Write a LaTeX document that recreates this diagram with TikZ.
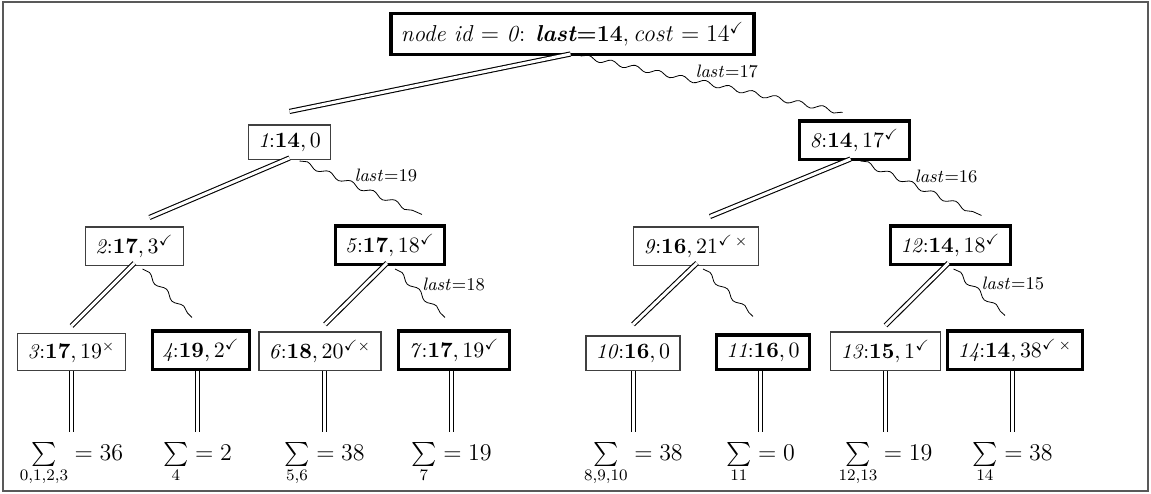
\documentclass[tikz,border=0pt,12pt]{standalone}
\usepackage{amsmath,amsfonts,amssymb}
\usetikzlibrary{decorations.pathmorphing, calc}

\begin{document}
\begin{tikzpicture}[x=0.5pt, y=-0.5pt,
            every node/.style={
                inner xsep=5pt,
                inner ysep=4pt,
                anchor=south,
                font=\fontsize{10.5}{12.6}\selectfont,
                },
            plain/.style={draw=black!75, line width=0.6pt},
            heavy/.style={draw, line width=1.6pt},
            dbl/.style={draw, double, line width=0.55pt, double distance=1.5pt},
            wavy/.style={
                draw,
                decorate,
                decoration={snake, amplitude=1.2pt, segment length=12pt}
                },
            lbl/.style={font=\fontsize{9}{11}\selectfont, inner sep=1pt},
            total/.style={inner xsep=3pt, inner ysep=5pt, anchor=base, font=\normalsize}]

        \useasboundingbox (0,0) rectangle (1151,493);
        \draw[black!65, line width=0.6pt] (3,2) rectangle (1148,491);

        \node[heavy, font=\fontsize{11.5}{13.8}\selectfont] (r) at (572.5,56) {\textit{node id} $=$ \textit{0}: \textbf{\textit{last}=14}$, \mathit{cost} = 14^{\checkmark}$};

        \node[plain] (n1) at (289.5,160) {\textit{1}:$\mathbf{14}, 0$};
        \node[heavy] (n8) at (854.5,161) {\textit{8}:$\mathbf{14}, 17^{\checkmark}$};

        \node[plain] (n2) at (134.5,266) {\textit{2}:$\mathbf{17}, 3^{\checkmark}$};
        \node[heavy] (n5) at (390,266) {\textit{5}:$\mathbf{17}, 18^{\checkmark}$};
        \node[plain] (n9) at (696,266) {\textit{9}:$\mathbf{16}, 21^{\checkmark\,\times}$};
        \node[heavy] (n12) at (950.5,266) {\textit{12}:$\mathbf{14}, 18^{\checkmark}$};

        \node[plain] (n3) at (71.5,371) {\textit{3}:$\mathbf{17}, 19^{\times}$};
        \node[heavy] (n4) at (201,371) {\textit{4}:$\mathbf{19}, 2^{\checkmark}$};
        \node[plain] (n6) at (320,371) {\textit{6}:$\mathbf{18}, 20^{\checkmark\times}$};
        \node[heavy] (n7) at (454,371) {\textit{7}:$\mathbf{17}, 19^{\checkmark}$};
        \node[plain] (n10) at (633,371) {\textit{10}:$\mathbf{16}, 0$};
        \node[heavy] (n11) at (763,371) {\textit{11}:$\mathbf{16}, 0$};
        \node[plain] (n13) at (885.5,371) {\textit{13}:$\mathbf{15}, 1^{\checkmark}$};
        \node[heavy] (n14) at (1015,371) {\textit{14}:$\mathbf{14}, 38^{\checkmark\,\times}$};

        \node[total] (s3) at (71.5,460) {$\sum\limits_{0,1,2,3} = 36$};
        \node[total] (s4) at (197.5,460) {$\sum\limits_{4} = 2$};
        \node[total] (s6) at (324.5,460) {$\sum\limits_{5,6} = 38$};
        \node[total] (s7) at (451.5,460) {$\sum\limits_{7} = 19$};
        \node[total] (s10) at (633.5,460) {$\sum\limits_{8,9,10} = 38$};
        \node[total] (s11) at (760.5,460) {$\sum\limits_{11} = 0$};
        \node[total] (s13) at (885.5,460) {$\sum\limits_{12,13} = 19$};
        \node[total] (s14) at (1012.5,460) {$\sum\limits_{14} = 38$};

        \draw[dbl] ([shift={(-2,-2)}]r.south) -- ([shift={(0,-13)}]n1.north);
        \draw[wavy] ([shift={(8,0)}]r.south) -- node[lbl, pos=.43, anchor=south west] {$\mathit{last}{=}17$} ([shift={(-12,-7)}]n8.north);

        \draw[dbl] ([shift={(0,-2)}]n1.south) -- ([shift={(15,-9)}]n2.north);
        \draw[wavy] ([shift={(10,1)}]n1.south) -- node[lbl, pos=.43, anchor=south west] {$\mathit{last}{=}19$} ([shift={(32,-10)}]n5.north);
        \draw[dbl] ([shift={(-4,-2)}]n8.south) -- ([shift={(14,-10)}]n9.north);
        \draw[wavy] ([shift={(6,0)}]n8.south) -- node[lbl, pos=.43, anchor=south west] {$\mathit{last}{=}16$} ([shift={(31,-9)}]n12.north);

        \draw[dbl] ([shift={(0,-3)}]n2.south) -- ([shift={(0,-7)}]n3.north);
        \draw[wavy] ([shift={(8,3)}]n2.south) -- ([shift={(-9,-12)}]n4.north);
        \draw[dbl] ([shift={(-3,-3)}]n5.south) -- ([shift={(5,-7)}]n6.north);
        \draw[wavy] ([shift={(5,3)}]n5.south) -- node[lbl, pos=.5, above right] {$\mathit{last}{=}18$} ([shift={(-9,-12)}]n7.north);
        \draw[dbl] ([shift={(1,-3)}]n9.south) -- ([shift={(0,-11)}]n10.north);
        \draw[wavy] ([shift={(7,3)}]n9.south) -- ([shift={(-10,-17)}]n11.north);
        \draw[dbl] ([shift={(-2,-3)}]n12.south) -- ([shift={(0,-6)}]n13.north);
        \draw[wavy] ([shift={(3,3)}]n12.south) -- node[lbl, pos=.5, above right] {$\mathit{last}{=}15$} ([shift={(-10,-14)}]n14.north);

        \foreach \leaf/\sumnode in {n3/s3, n4/s4, n6/s6, n7/s7, n10/s10, n11/s11, n13/s13, n14/s14}
            \draw[dbl] (\sumnode.north |- \leaf.south) -- (\sumnode.north);

    \end{tikzpicture}
\end{document}
